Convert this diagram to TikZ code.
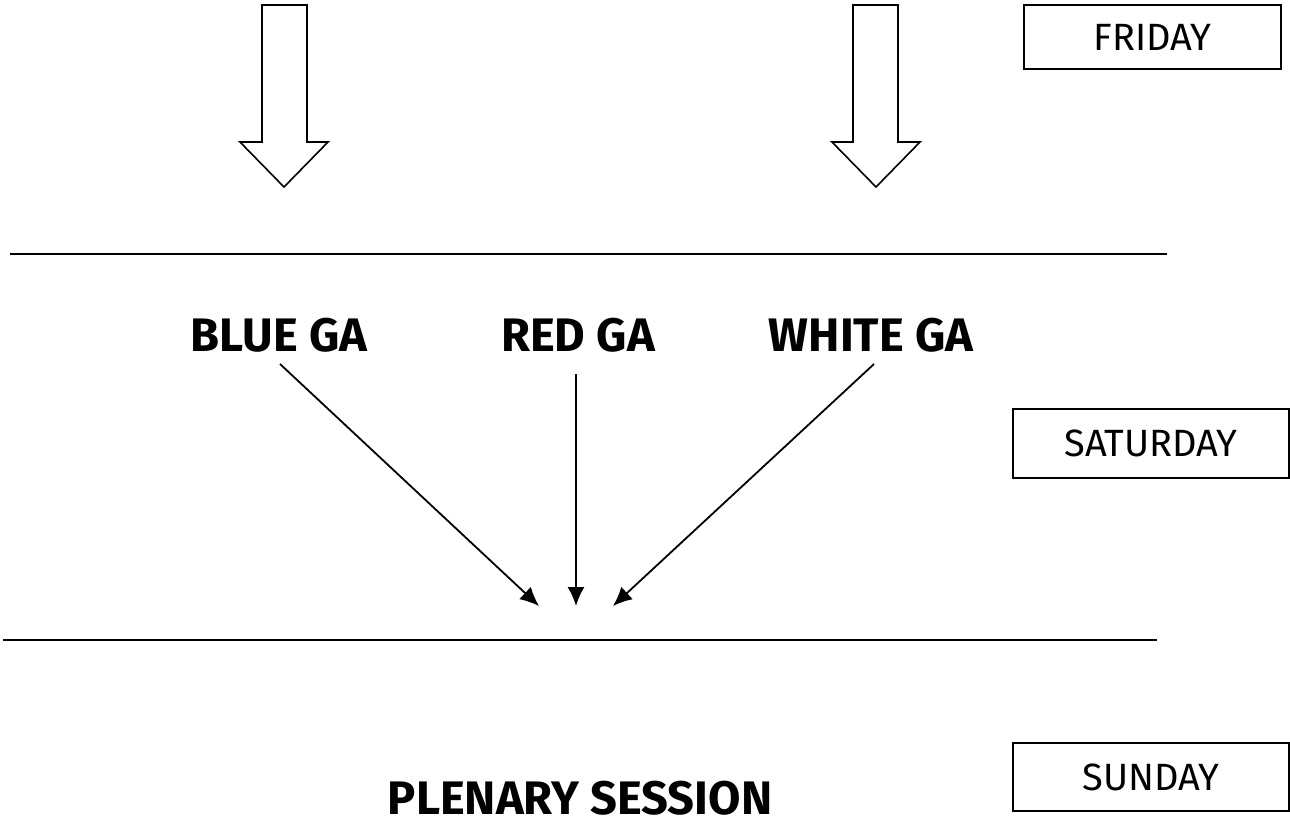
\documentclass[tikz,border=0pt]{standalone}
\usepackage{fontspec}
\setmainfont{Fira Sans}
\usetikzlibrary{positioning}
\usetikzlibrary{arrows.meta}
\tikzstyle{day} = [draw, line width=1.5pt, rectangle, inner sep=0pt, font=\fontsize{38}{44}\selectfont]
\tikzstyle{group} = [anchor=base, inner sep=0pt, font=\fontsize{47}{56}\selectfont\bfseries]
\tikzstyle{fat} = [draw, line width=1.6pt, line join=miter]
\tikzstyle{dayline} = [line width=1.6pt, dash pattern=on 2.5pt off 0.5pt]

\begin{document}
\begin{tikzpicture}[x=1pt,y=-1pt,>={Latex[length=19pt,width=17pt]}]
    \useasboundingbox (0,0) rectangle (1290,823);
    % days
    \node [day, minimum width=257pt, minimum height=64pt] (fri) at (1152.5,37) {FRIDAY};
    \node [day, minimum width=276pt, minimum height=69pt] (sat) at (1151,443.5) {SATURDAY};
    \node [day, minimum width=276pt, minimum height=68pt] (sun) at (1151,777) {SUNDAY};
    % big arrows
    \draw [fat] (262,5) -- (262,142) -- (240,142) -- (284,187) -- (328,142) -- (307,142) -- (307,5) -- cycle;
    \draw [fat] (853,5) -- (853,142) -- (832,142) -- (876,187) -- (920,142) -- (898,142) -- (898,5) -- cycle;
    % separators
    \draw [dayline] (10,254) -- (1167,254);
    \draw [dayline] (3,640) -- (1157,640);
    % assemblies
    \node [group] (blue) at (279,351) {BLUE GA};
    \node [group] (red) at (578,351) {RED GA};
    \node [group] (white) at (871,351) {WHITE GA};
    \node [group] (plenary) at (580,814) {PLENARY SESSION};
    \coordinate (inL) at (539,606);
    \coordinate (inM) at (576,606);
    \coordinate (inR) at (613,606);
    \draw [->, line width=1.8pt] (280,364) -- (inL);
    \draw [->, line width=1.8pt] (576,374) -- (inM);
    \draw [->, line width=1.8pt] (874,364) -- (inR);
\end{tikzpicture}
\end{document}
